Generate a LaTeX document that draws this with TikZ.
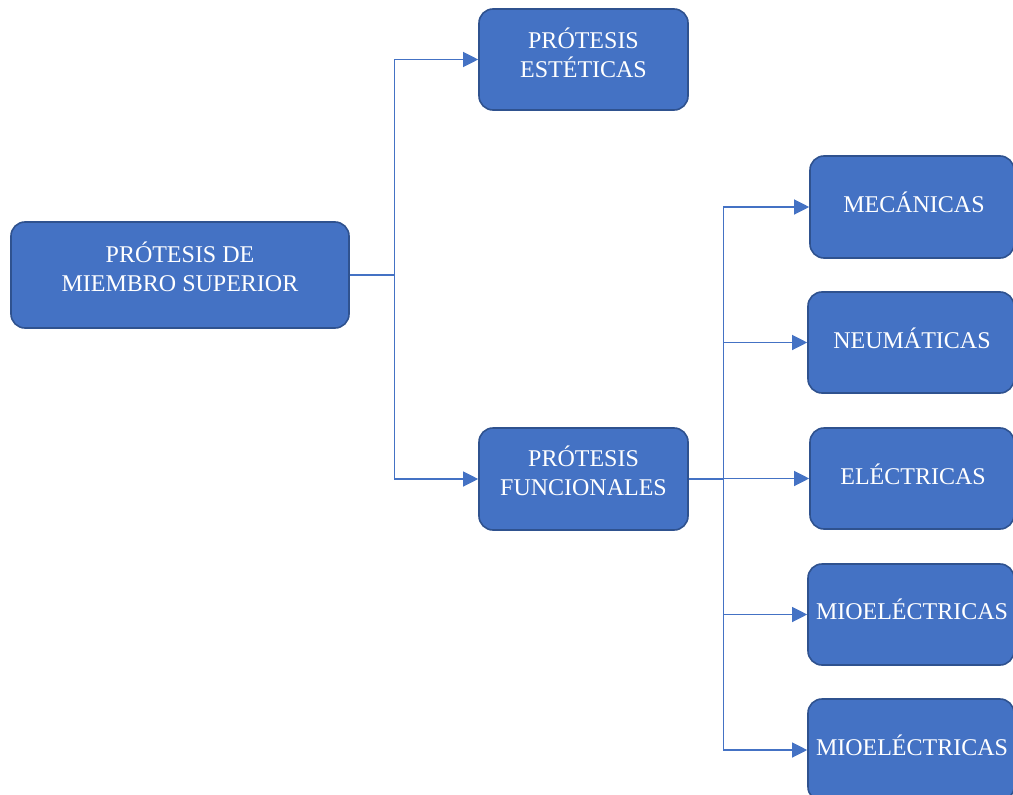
\documentclass[tikz,border=0pt]{standalone}
\usepackage{fontspec}
\setmainfont{Liberation Serif}
\usetikzlibrary{arrows.meta}
\definecolor{boxfill}{HTML}{4472C4}
\definecolor{boxline}{HTML}{2F528F}
\definecolor{connc}{HTML}{4472C4}
\begin{document}
\begin{tikzpicture}[x=1pt,y=-1pt,
 box/.style={draw=boxline, fill=boxfill, line width=1.6pt, rounded corners=14pt, inner sep=0pt},
 lbl/.style={text=white, font=\fontsize{24}{29}\selectfont, align=center, inner sep=0pt},
 connline/.style={draw=connc, line width=1.2pt},
 arr/.style={connline, -{Triangle[length=15pt,width=15pt]}}]
\useasboundingbox (0,0) rectangle (1013,795);
\clip (0,0) rectangle (1013,795);
% boxes
\node[box, minimum width=338pt, minimum height=106pt] (main) at (180,275) {};
\node[box, minimum width=209pt, minimum height=101pt] (est) at (583.5,59.5) {};
\node[box, minimum width=209pt, minimum height=102pt] (fun) at (583.5,479) {};
\node[box, minimum width=204pt, minimum height=102pt] (mec) at (912,207) {};
\node[box, minimum width=206pt, minimum height=101pt] (neu) at (911,342.5) {};
\node[box, minimum width=204pt, minimum height=101pt] (ele) at (912,478.5) {};
\node[box, minimum width=206pt, minimum height=101pt] (mio1) at (911,614.5) {};
\node[box, minimum width=206pt, minimum height=102pt] (mio2) at (911,750) {};
% labels
\node[lbl] (tmain) at ([yshift=8pt]main.center) {PRÓTESIS DE\\MIEMBRO SUPERIOR};
\node[lbl] (test) at ([yshift=7pt]est.center) {PRÓTESIS\\ESTÉTICAS};
\node[lbl] (tfun) at ([yshift=8pt]fun.center) {PRÓTESIS\\FUNCIONALES};
\node[lbl] (tmec) at ([xshift=2pt,yshift=5pt]mec.center) {MECÁNICAS};
\node[lbl] (tneu) at ([xshift=1pt,yshift=4pt]neu.center) {NEUMÁTICAS};
\node[lbl] (tele) at ([xshift=1pt,yshift=4pt]ele.center) {ELÉCTRICAS};
\node[lbl] (tmio1) at ([xshift=1pt,yshift=5pt]mio1.center) {MIOELÉCTRICAS};
\node[lbl] (tmio2) at ([xshift=1pt,yshift=5pt]mio2.center) {MIOELÉCTRICAS};
% connectors
\draw[connline] (main.east) -- ++(45,0) coordinate (j1);
\draw[arr] (j1) |- (est.west);
\draw[arr] (j1) |- (fun.west);
\draw[connline] (fun.east) -- ++(35,0) coordinate (j2);
\draw[arr] (j2) |- (mec.west);
\draw[arr] (j2) |- (neu.west);
\draw[arr] (j2) |- (ele.west);
\draw[arr] (j2) |- (mio1.west);
\draw[arr] (j2) |- (mio2.west);
\end{tikzpicture}
\end{document}
